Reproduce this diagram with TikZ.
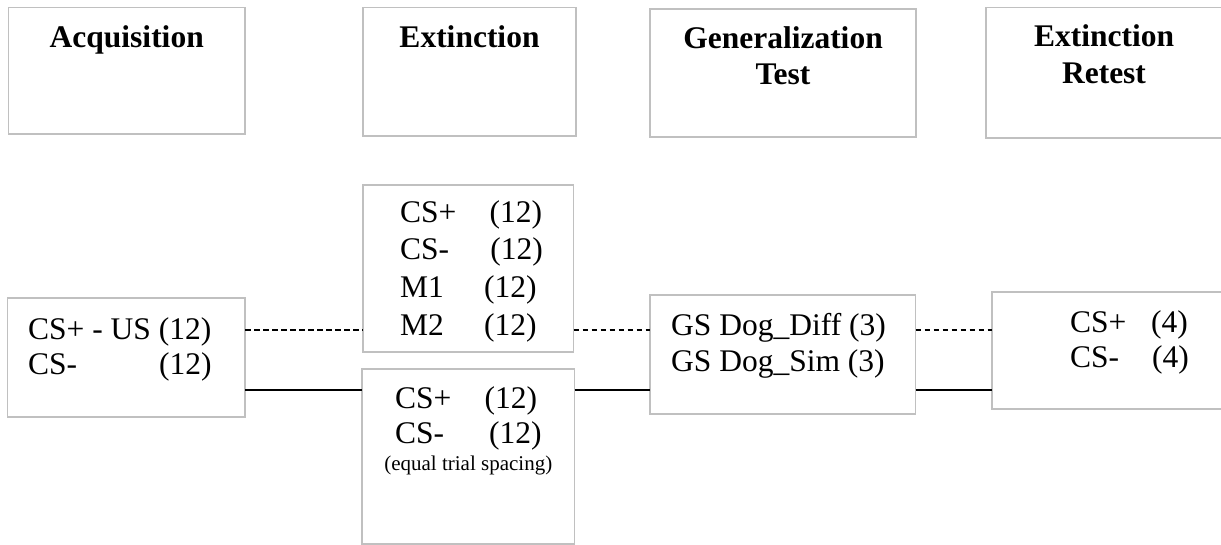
\documentclass[tikz,border=0pt]{standalone}
\usepackage{fontspec}
\setmainfont{Liberation Serif}
\definecolor{boxgray}{RGB}{192,192,192}
\newcommand{\tabto}[2]{\makebox[#1][l]{#2}}

\begin{document}
\begin{tikzpicture}[x=1pt,y=-1pt,
	stagebox/.style={draw=boxgray,line width=1.6pt,outer sep=0pt,inner sep=0pt,anchor=north west},
	stagetitle/.style={font=\fontsize{31.5}{37}\selectfont\bfseries,inner sep=0pt,anchor=base},
	trials/.style={font=\fontsize{31.5}{37}\selectfont,inner sep=0pt,anchor=base west},
	smallnote/.style={font=\fontsize{21}{25}\selectfont,inner sep=0pt,anchor=base},
	solidlink/.style={line width=1.1pt},
	dashlink/.style={line width=1.2pt,dash pattern=on 5.5pt off 3.5pt}]
	\useasboundingbox (0,0) rectangle (1221,545);
	% phase headers
	\node[stagebox,minimum width=236.5pt,minimum height=126.5pt] (acqtop) at (8.5,7.5) {};
	\node[stagebox,minimum width=213pt,minimum height=128.5pt] (exttop) at (363,7.5) {};
	\node[stagebox,minimum width=266pt,minimum height=128pt] (gentop) at (650,9) {};
	\node[stagebox,minimum width=236pt,minimum height=130.5pt] (rettop) at (986,7.5) {};
	\node[stagetitle] (acqtitle) at (acqtop.north |- 0,48) {Acquisition};
	\node[stagetitle] (exttitle) at (exttop.north |- 0,48) {Extinction};
	\node[stagetitle] (gentitle) at (gentop.north |- 0,49) {Generalization};
	\node[stagetitle] (gentitleb) at (gentop.north |- 0,85) {Test};
	\node[stagetitle] (rettitle) at (rettop.north |- 0,47) {Extinction};
	\node[stagetitle] (rettitleb) at (rettop.north |- 0,84) {Retest};
	% trial boxes
	\node[stagebox,minimum width=237.5pt,minimum height=119pt] (acqlo) at (7.5,298) {};
	\node[stagebox,minimum width=210.5pt,minimum height=167pt] (extup) at (363,185) {};
	\node[stagebox,minimum width=212.5pt,minimum height=175pt] (extlo) at (362,369) {};
	\node[stagebox,minimum width=265.5pt,minimum height=119pt] (genlo) at (650,295) {};
	\node[stagebox,minimum width=230pt,minimum height=117pt] (retlo) at (992,292) {};
	\node[trials] (acq1) at (28,340) {CS+ - US (12)};
	\node[trials] (acq2) at (28,374) {\tabto{131pt}{CS-}(12)};
	\node[trials] (extup1) at (400,223) {\tabto{89.5pt}{CS+}(12)};
	\node[trials] (extup2) at (400,260) {\tabto{90.3pt}{CS-}(12)};
	\node[trials] (extup3) at (400,298) {\tabto{84pt}{M1}(12)};
	\node[trials] (extup4) at (400,335) {\tabto{84pt}{M2}(12)};
	\node[trials] (extlo1) at (395,408) {\tabto{89.4pt}{CS+}(12)};
	\node[trials] (extlo2) at (395,443) {\tabto{94pt}{CS-}(12)};
	\node[smallnote] (extlo3) at (extlo.north |- 0,470) {(equal trial spacing)};
	\node[trials] (gen1) at (671,335) {GS Dog\_Diff (3)};
	\node[trials] (gen2) at (671,371) {GS Dog\_Sim (3)};
	\node[trials] (ret1) at (1070,333) {\tabto{81pt}{CS+}(4)};
	\node[trials] (ret2) at (1070,367) {\tabto{82pt}{CS-}(4)};
	% links between phases
	\coordinate (dashrow) at (0,330);
	\coordinate (solidrow) at (0,390);
	\draw[dashlink] (acqlo.east |- dashrow) -- (extup.west |- dashrow);
	\draw[dashlink] (extup.east |- dashrow) -- (genlo.west |- dashrow);
	\draw[dashlink] (genlo.east |- dashrow) -- (retlo.west |- dashrow);
	\draw[solidlink] (acqlo.east |- solidrow) -- (extlo.west |- solidrow);
	\draw[solidlink] (extlo.east |- solidrow) -- (genlo.west |- solidrow);
	\draw[solidlink] (genlo.east |- solidrow) -- (retlo.west |- solidrow);
\end{tikzpicture}
\end{document}
